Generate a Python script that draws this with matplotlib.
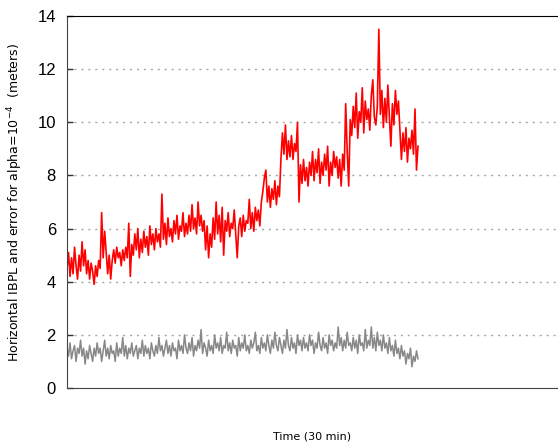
import numpy as np
import matplotlib.pyplot as plt

# horizontal IBPL (red) and position error (gray), one sample per step
ibpl = [
    4.5, 5.1, 4.2, 4.9, 4.3, 5.3, 4.6, 4.1, 5.0, 4.4,
    5.5, 4.6, 5.2, 4.3, 4.8, 4.1, 4.7, 4.4, 3.9, 4.6,
    4.2, 4.8, 4.5, 6.6, 4.9, 5.9, 5.1, 4.3, 5.0, 4.1,
    4.8, 5.2, 4.7, 5.3, 4.9, 5.1, 4.6, 5.2, 4.8, 5.3,
    4.9, 6.2, 4.2, 5.4, 5.0, 5.8, 5.2, 6.0, 4.9, 5.6,
    5.1, 5.9, 5.3, 5.7, 5.0, 6.1, 5.4, 5.8, 5.2, 6.0,
    5.5, 5.8, 5.3, 7.3, 5.6, 6.2, 5.4, 6.4, 5.7, 6.0,
    5.5, 6.3, 5.8, 6.5, 5.6, 6.1, 5.9, 6.6, 5.7, 6.2,
    5.8, 6.5, 5.9, 6.9, 6.0, 6.4, 5.8, 7.0, 6.1, 6.5,
    5.9, 6.3, 5.2, 6.1, 4.9, 5.8, 5.3, 6.4, 5.6, 7.0,
    5.8, 6.5, 5.5, 6.8, 5.0, 6.3, 5.9, 6.6, 5.7, 6.2,
    6.0, 6.7, 5.8, 4.9, 6.1, 6.4, 5.7, 6.5, 5.9, 6.3,
    6.2, 7.1, 6.0, 6.6, 5.9, 6.8, 6.3, 6.7, 6.1, 7.0,
    7.4, 7.9, 8.2, 7.0, 7.6, 6.8, 7.5, 7.1, 7.8, 6.9,
    7.6, 7.2, 8.6, 9.6, 8.8, 9.9, 8.6, 9.3, 8.7, 9.5,
    8.6, 9.2, 8.9, 10.0, 7.0, 8.4, 7.7, 8.6, 7.8, 8.3,
    7.6, 8.5, 8.0, 8.9, 7.8, 8.6, 8.1, 9.0, 7.7, 8.5,
    8.0, 8.8, 8.2, 9.1, 7.6, 8.5, 8.0, 8.9, 8.3, 8.7,
    7.9, 8.6, 7.6, 8.8, 8.2, 10.7, 8.9, 7.6, 10.1, 9.5,
    10.6, 9.8, 11.1, 9.4, 10.4, 10.0, 11.3, 9.6, 10.8, 10.1,
    10.5, 9.7, 11.0, 11.6, 10.2, 9.9, 10.6, 13.5, 10.3, 11.2,
    9.8, 10.9, 10.0, 11.4, 10.2, 9.1, 10.7, 9.9, 11.2, 10.3,
    10.8, 9.7, 8.6, 9.6, 8.9, 9.8, 8.5, 9.4, 9.0, 9.7,
    8.8, 10.5, 8.2, 9.1,
]

error = [
    1.5, 1.2, 1.7, 1.1, 1.4, 1.6, 1.0, 1.5, 1.3, 1.8,
    1.2, 1.5, 0.9, 1.4, 1.1, 1.6, 1.3, 1.0, 1.5, 1.2,
    1.7, 1.3, 1.5, 1.0, 1.4, 1.8, 1.2, 1.5, 1.1, 1.6,
    1.3, 1.4, 1.0, 1.7, 1.2, 1.5, 1.3, 1.9, 1.2, 1.6,
    1.1, 1.5, 1.3, 1.7, 1.2, 1.4, 1.6, 1.1, 1.5, 1.3,
    1.8, 1.2, 1.6, 1.3, 1.5, 1.1, 1.7, 1.4, 1.2, 1.6,
    1.3, 1.9, 1.4, 1.6, 1.2, 1.5, 1.8, 1.3, 1.6, 1.2,
    1.7, 1.4, 1.5, 1.1, 1.8, 1.4, 1.6, 1.3, 2.0, 1.5,
    1.3, 1.7, 1.4, 1.9, 1.2, 1.6, 1.4, 1.8, 1.5, 2.2,
    1.3, 1.7, 1.5, 1.2, 1.8, 1.4, 1.6, 1.3, 2.0, 1.5,
    1.7, 1.4, 1.9, 1.3, 1.6, 1.5, 2.1, 1.4, 1.7, 1.3,
    1.8, 1.5, 1.6, 1.2, 1.9, 1.4, 1.7, 1.5, 2.0, 1.4,
    1.6, 1.3, 1.8, 1.5, 1.7, 2.1, 1.4, 1.6, 1.3, 1.9,
    1.5, 1.7, 1.4, 2.0, 1.6, 1.3, 1.8, 1.5, 2.1, 1.6,
    1.4, 1.9, 1.6, 1.3, 1.8, 1.5, 2.2, 1.6, 1.4, 1.9,
    1.5, 1.7, 1.3, 2.0, 1.6, 1.8, 1.4, 1.9, 1.5, 1.7,
    1.4, 2.0, 1.6, 1.8, 1.3, 1.7, 1.5, 2.1, 1.6, 1.4,
    1.9, 1.5, 1.7, 1.3, 2.0, 1.6, 1.8, 1.4, 1.7, 1.5,
    2.3, 1.6, 1.9, 1.4, 1.8, 1.5, 2.1, 1.6, 1.7, 1.4,
    1.9, 1.5, 1.8, 1.3, 2.0, 1.6, 1.7, 1.4, 2.2, 1.5,
    1.8, 1.6, 2.3, 1.5, 1.9, 1.4, 2.1, 1.6, 1.8, 1.4,
    2.0, 1.5, 1.7, 1.3, 1.9, 1.4, 1.6, 1.2, 1.8, 1.3,
    1.5, 1.1, 1.6, 1.2, 1.4, 0.9, 1.3, 1.1, 1.5, 0.8,
    1.2, 1.0, 1.4, 1.1,
]

t = np.arange(len(ibpl))
yticks = [0, 2, 4, 6, 8, 10, 12, 14]

fig = plt.figure(figsize=(5.58, 4.48), dpi=100)
ax = fig.add_axes([0.1201, 0.1339, 0.8799, 0.8304])

ax.plot(t, ibpl, color='#ff0000', lw=1.2)
ax.plot(t, error, color='#888888', lw=1.1)

ax.set_xlim(0, (len(t) - 1) * 491 / 351)
ax.set_ylim(0, 14)
ax.set_xticks([])
ax.set_yticks(yticks)
ax.set_yticklabels([str(v) for v in yticks], fontsize=12, family='Liberation Sans')
ax.tick_params(axis='y', direction='in', length=4, width=1, color='#333333', pad=8)

for v in yticks[1:-1]:
    ax.axhline(v, color='#a8a8a8', lw=1, ls=(0, (1.5, 3.5)), zorder=0)

ax.spines['right'].set_visible(False)
ax.spines['top'].set_color('black')
ax.spines['left'].set_color('#444444')
ax.spines['bottom'].set_color('#444444')

ax.set_ylabel('Horizontal IBPL and error for alpha=10$^{-4}$  (meters)', fontsize=9, labelpad=9)
fig.text(0.56, 0.018, 'Time (30 min)', fontsize=8, ha='center')

plt.savefig('out.png', dpi=100, facecolor='w')
